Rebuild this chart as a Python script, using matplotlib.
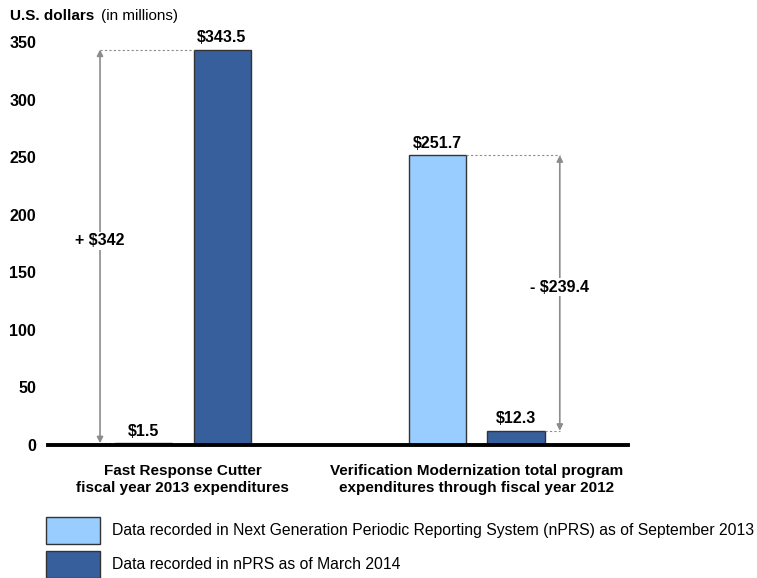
import matplotlib.pyplot as plt
from matplotlib.patches import Patch

plt.rcParams['font.family'] = ['Liberation Sans', 'DejaVu Sans']

CATEGORIES = ['Fast Response Cutter\nfiscal year 2013 expenditures',
              'Verification Modernization total program\nexpenditures through fiscal year 2012']
SEP_2013 = [1.5, 251.7]
MAR_2014 = [343.5, 12.3]
DIFF_LABELS = ['+ $342', '- $239.4']
SERIES_LABELS = ['Data recorded in Next Generation Periodic Reporting System (nPRS) as of September 2013',
                 'Data recorded in nPRS as of March 2014']
YTICKS = [0, 50, 100, 150, 200, 250, 300, 350]

LIGHT = '#99ccff'
DARK = '#365f9b'
EDGE = '#333333'

fig = plt.figure(figsize=(7.57, 5.78), dpi=100)
ax = fig.add_axes([0.0634, 0.2301, 0.7662, 0.6972])

x = [0, 1]
w = 0.194
off = 0.133
b1 = ax.bar([i - off for i in x], SEP_2013, w, color=LIGHT, edgecolor=EDGE, linewidth=1)
b2 = ax.bar([i + off for i in x], MAR_2014, w, color=DARK, edgecolor=EDGE, linewidth=1)

for bars in (b1, b2):
    for bar in bars:
        h = bar.get_height()
        ax.text(bar.get_x() + bar.get_width() / 2, h + 4, f'${h:.1f}',
                ha='center', va='bottom', fontsize=11.5, fontweight='bold')

# difference arrows with dashed guide lines
arrow_col = '#8c8c8c'
for i, lab in enumerate(DIFF_LABELS):
    a, b = SEP_2013[i], MAR_2014[i]
    if i == 0:
        xa = x[i] - 0.282
        ax.plot([xa, x[i] - off - w / 2], [a, a], ls=(0, (2, 2)), color=arrow_col, lw=0.8)
        ax.plot([xa, x[i] + off - w / 2], [b, b], ls=(0, (2, 2)), color=arrow_col, lw=0.8)
    else:
        xa = x[i] + 0.282
        ax.plot([x[i] - off + w / 2, xa], [a, a], ls=(0, (2, 2)), color=arrow_col, lw=0.8)
        ax.plot([x[i] + off + w / 2, xa], [b, b], ls=(0, (2, 2)), color=arrow_col, lw=0.8)
    ax.annotate('', xy=(xa, a), xytext=(xa, b),
                arrowprops=dict(arrowstyle='<|-|>', color=arrow_col, lw=1.2,
                                mutation_scale=9, shrinkA=0, shrinkB=0))
    ax.text(xa, (a + b) / 2 + 5, lab, ha='center', va='center', fontsize=11.5,
            fontweight='bold', bbox=dict(facecolor='white', edgecolor='none', pad=1))

ax.set_xlim(-0.459, 1.514)
ax.set_ylim(0, 350)
ax.set_yticks(YTICKS)
ax.set_yticklabels([str(t) for t in YTICKS], fontweight='bold', fontsize=11.5)
ax.set_xticks(x)
ax.set_xticklabels(CATEGORIES, fontweight='bold', fontsize=11, linespacing=1.2)
ax.tick_params(axis='both', length=0)
ax.tick_params(axis='y', pad=8.5)
ax.tick_params(axis='x', pad=14)
for s in ['top', 'right', 'left']:
    ax.spines[s].set_visible(False)
ax.spines['bottom'].set_linewidth(2.8)

fig.text(0.013, 0.985, 'U.S. dollars', fontweight='bold', fontsize=11, va='top', ha='left')
fig.text(0.133, 0.985, '(in millions)', fontsize=11, va='top', ha='left')

handles = [Patch(facecolor=LIGHT, edgecolor=EDGE), Patch(facecolor=DARK, edgecolor=EDGE)]
fig.legend(handles, SERIES_LABELS, loc='lower left', bbox_to_anchor=(46 / 757, 0.0),
           frameon=False, fontsize=11.35, handlelength=3.45, handleheight=2.3,
           labelspacing=0.4, handletextpad=0.75, borderpad=0, borderaxespad=0)

fig.savefig('out.png', dpi=100)
